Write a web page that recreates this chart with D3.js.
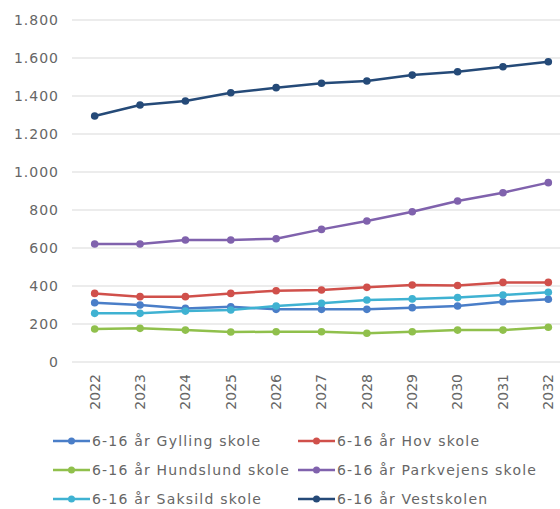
<!DOCTYPE html>
<html>
<head>
<meta charset="utf-8">
<script src="https://cdn.jsdelivr.net/npm/d3@7"></script>
<style>
  html, body { margin: 0; padding: 0; background: #fff; }
  svg { display: block; font-family: "DejaVu Sans", sans-serif; }
</style>
</head>
<body>
<svg id="viz" width="560" height="509"></svg>
<script>
/* Data */

const years = ['2022', '2023', '2024', '2025', '2026', '2027', '2028', '2029', '2030', '2031', '2032'];

const gylling = [312, 300, 282, 291, 277, 277, 277, 286, 295, 317, 330];
const hov = [361, 344, 344, 361, 375, 379, 393, 405, 403, 419, 419];
const hundslund = [174, 177, 168, 158, 159, 159, 151, 159, 168, 168, 183];
const parkvejens = [621, 621, 642, 642, 649, 698, 742, 791, 847, 891, 944];
const saksild = [256, 256, 268, 274, 295, 309, 326, 332, 339, 353, 367];
const vestskolen = [1295, 1353, 1374, 1417, 1444, 1467, 1479, 1510, 1528, 1554, 1580];

const yTicks = [0, 200, 400, 600, 800, 1000, 1200, 1400, 1600, 1800];

const series = [
  { name: '6-16 år Gylling skole', values: gylling, color: '#4a7ec8' },
  { name: '6-16 år Hov skole', values: hov, color: '#d0504b' },
  { name: '6-16 år Hundslund skole', values: hundslund, color: '#90c04c' },
  { name: '6-16 år Parkvejens skole', values: parkvejens, color: '#8062ad' },
  { name: '6-16 år Saksild skole', values: saksild, color: '#3fb2d2' },
  { name: '6-16 år Vestskolen', values: vestskolen, color: '#254a78' },
];

/* Visualization */

const svg = d3.select('#viz');

// scales
const xScale = d3.scaleBand().domain(years).range([72, 571]);
const yScale = d3.scaleLinear().domain([0, 1800]).range([362, 20]);

// gridlines
svg.append('g')
  .selectAll('line')
  .data(yTicks)
  .join('line')
  .attr('x1', 72)
  .attr('x2', 571)
  .attr('y1', (d) => yScale(d))
  .attr('y2', (d) => yScale(d))
  .attr('stroke', '#d9d9d9')
  .attr('stroke-width', 1);

// y axis labels
const yAxis = svg.append('g')
  .attr('transform', 'translate(65,0)')
  .call(d3.axisLeft(yScale).tickValues(yTicks).tickSize(0).tickPadding(6)
    .tickFormat((d) => d3.format(',')(d).replace(/,/g, '.')));
yAxis.select('.domain').remove();
yAxis.selectAll('text')
  .attr('fill', '#666')
  .style('font-size', '14px')
  .style('letter-spacing', '1px')
  .style('font-family', '"DejaVu Sans", sans-serif');

// x axis labels
const xAxis = svg.append('g')
  .attr('transform', 'translate(0,362)')
  .call(d3.axisBottom(xScale).tickSize(0).tickPadding(0));
xAxis.select('.domain').remove();
xAxis.selectAll('text')
  .attr('fill', '#666')
  .attr('transform', 'rotate(-90)')
  .attr('text-anchor', 'end')
  .attr('x', -12)
  .attr('y', 0)
  .attr('dy', '0.35em')
  .style('font-size', '14px')
  .style('font-family', '"DejaVu Sans", sans-serif');

// lines
const line = d3.line()
  .x((d, i) => xScale(years[i]) + xScale.bandwidth() / 2)
  .y((d) => yScale(d));

const groups = svg.append('g')
  .selectAll('g')
  .data(series)
  .join('g');

groups.append('path')
  .attr('fill', 'none')
  .attr('stroke', (d) => d.color)
  .attr('stroke-width', 2.5)
  .attr('stroke-linejoin', 'round')
  .attr('d', (d) => line(d.values));

groups.selectAll('circle')
  .data((d) => d.values.map((v, i) => ({ v: v, i: i, color: d.color })))
  .join('circle')
  .attr('cx', (d) => xScale(years[d.i]) + xScale.bandwidth() / 2)
  .attr('cy', (d) => yScale(d.v))
  .attr('r', 3.8)
  .attr('fill', (d) => d.color);

// legend
const legend = svg.append('g')
  .selectAll('g')
  .data(series)
  .join('g')
  .attr('transform', (d, i) => 'translate(' + (i % 2 === 0 ? 53 : 298) + ',' + (441 + Math.floor(i / 2) * 29) + ')');

legend.append('line')
  .attr('x1', 0)
  .attr('x2', 37)
  .attr('stroke', (d) => d.color)
  .attr('stroke-width', 2.5);

legend.append('circle')
  .attr('cx', 18.5)
  .attr('r', 3.5)
  .attr('fill', (d) => d.color);

legend.append('text')
  .attr('x', 39)
  .attr('dy', '0.35em')
  .attr('fill', '#666')
  .style('font-size', '14px')
  .style('letter-spacing', '1.2px')
  .text((d) => d.name);
</script>
</body>
</html>
